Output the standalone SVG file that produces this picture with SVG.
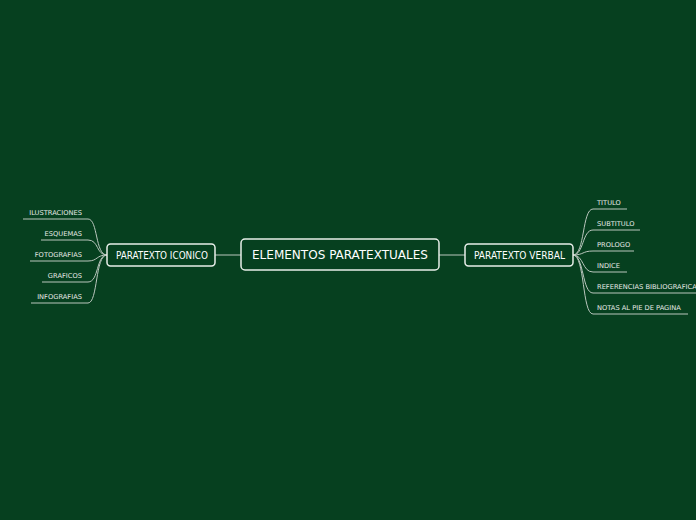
<svg xmlns="http://www.w3.org/2000/svg" width="696" height="520" viewBox="0 0 696 520">
<style>
.node rect{fill:#06401f;stroke:#e8eee9;stroke-width:1.5}
.nt{font-family:"DejaVu Sans Condensed","DejaVu Sans",sans-serif;fill:#ffffff;text-anchor:middle;dominant-baseline:central}
.lt{font-family:"DejaVu Sans",Verdana,sans-serif;font-size:6.7px;fill:#e6ebe7}
.c path{fill:none;stroke:#b9c6bd;stroke-width:1}
</style>
<rect width="696" height="520" fill="#06401f"/>
<g class="c" id="connectors">
<path d="M215 255H241"/>
<path d="M439 255H465"/>
<path d="M107 255C95 255 98 219 88 219H23"/>
<path d="M107 255C96 255 99 240 88 240H41"/>
<path d="M107 255C96 255 98 261 88 261H30"/>
<path d="M107 255C96 255 99 282 88 282H42"/>
<path d="M107 255C95 255 98 303 88 303H31"/>
<path d="M573 255C585 255 582 209 593 209H627"/>
<path d="M573 255C584 255 582 230 593 230H640"/>
<path d="M573 255C584 255 582 251 593 251H634"/>
<path d="M573 255C584 255 582 272 593 272H627"/>
<path d="M573 255C584 255 582 293 593 293H696"/>
<path d="M573 255C585 255 582 314 593 314H688"/>
</g>
<g class="node" id="center"><rect x="241" y="239" width="198" height="31" rx="4"/><text class="nt" x="340" y="254.5" font-size="13" textLength="176" lengthAdjust="spacingAndGlyphs">ELEMENTOS PARATEXTUALES</text></g>
<g class="node" id="iconico"><rect x="107" y="244" width="108" height="22" rx="3.5"/><text class="nt" x="162" y="255" font-size="10" textLength="92" lengthAdjust="spacingAndGlyphs">PARATEXTO ICONICO</text></g>
<g class="node" id="verbal"><rect x="465" y="244" width="108" height="22" rx="3.5"/><text class="nt" x="519.5" y="255" font-size="10" textLength="91" lengthAdjust="spacingAndGlyphs">PARATEXTO VERBAL</text></g>
<g id="l1"><text class="lt" x="82" y="215" text-anchor="end">ILUSTRACIONES</text></g>
<g id="l2"><text class="lt" x="82" y="236" text-anchor="end">ESQUEMAS</text></g>
<g id="l3"><text class="lt" x="82" y="257" text-anchor="end">FOTOGRAFIAS</text></g>
<g id="l4"><text class="lt" x="82" y="278" text-anchor="end">GRAFICOS</text></g>
<g id="l5"><text class="lt" x="82" y="299" text-anchor="end">INFOGRAFIAS</text></g>
<g id="r1"><text class="lt" x="597" y="205">TITULO</text></g>
<g id="r2"><text class="lt" x="597" y="226">SUBTITULO</text></g>
<g id="r3"><text class="lt" x="597" y="247">PROLOGO</text></g>
<g id="r4"><text class="lt" x="597" y="268">INDICE</text></g>
<g id="r5"><text class="lt" x="597" y="289">REFERENCIAS BIBLIOGRAFICAS</text></g>
<g id="r6"><text class="lt" x="597" y="310">NOTAS AL PIE DE PAGINA</text></g>
</svg>
